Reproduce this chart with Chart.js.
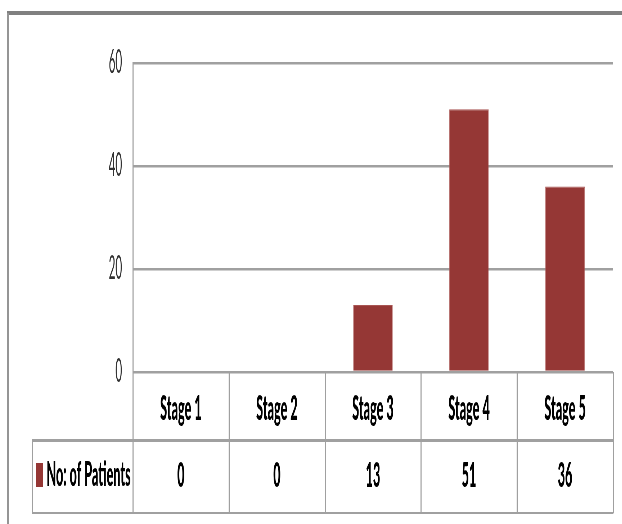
<!DOCTYPE html>
<html>
<head>
<meta charset="utf-8">
<script src="https://cdn.jsdelivr.net/npm/chart.js@4/dist/chart.umd.min.js"></script>
<style>
  html, body { margin: 0; padding: 0; background: #ffffff; overflow: hidden; }
  /* The chart is laid out on a wide canvas and then squeezed horizontally */
  #wrap { width: 1728px; height: 524px; transform: scaleX(0.36); transform-origin: 0 0; }
  canvas { display: block; }
</style>
</head>
<body>
<div id="wrap"><canvas id="chart" width="1728" height="524"></canvas></div>
<script>
// Chart data
const categories = ['Stage 1', 'Stage 2', 'Stage 3', 'Stage 4', 'Stage 5'];
const patients = [0, 0, 13, 51, 36];
const seriesName = 'No: of Patients';
const yTickValues = [0, 20, 40, 60];

const barColor = '#953735';
const lineColor = '#a0a0a0';
const FONT = 'Lato, "Open Sans", sans-serif';

// Draws the frame and the data table underneath the plot
const tablePlugin = {
  id: 'dataTable',
  beforeDraw(chart) {
    const ctx = chart.ctx;
    ctx.save();
    // outer frame: thick top rule and thin left rule
    ctx.fillStyle = '#808080';
    ctx.fillRect(19, 11, chart.width - 19, 4);
    ctx.fillStyle = '#959595';
    ctx.fillRect(20, 13, 5, chart.height - 13);
    ctx.restore();
  },
  afterDraw(chart) {
    const ctx = chart.ctx;
    const area = chart.chartArea;
    const n = categories.length;
    const colW = (area.right - area.left) / n;
    const row1Top = area.bottom;
    const row2Top = 440;
    const row2Bottom = 513;
    const tableLeft = 89;

    ctx.save();
    ctx.fillStyle = lineColor;
    // horizontal rules
    ctx.fillRect(tableLeft, row2Top - 1, area.right - tableLeft + 1, 3);
    ctx.fillRect(tableLeft, row2Bottom - 1, area.right - tableLeft + 1, 2);
    // vertical rules
    for (let i = 0; i <= n; i++) {
      const x = Math.round(area.left + i * colW);
      ctx.fillRect(x - 1, row1Top, 3, row2Bottom - row1Top);
    }
    ctx.fillRect(tableLeft - 1, row2Top, 3, row2Bottom - row2Top);

    // header row and value row
    ctx.fillStyle = '#000000';
    ctx.font = '900 35px ' + FONT;
    ctx.textAlign = 'center';
    ctx.textBaseline = 'alphabetic';
    for (let i = 0; i < n; i++) {
      const cx = chart.scales.x.getPixelForValue(i);
      ctx.fillText(categories[i], cx, 420);
      ctx.fillText(String(patients[i]), cx, 487);
    }

    // legend key and series name
    ctx.fillStyle = barColor;
    ctx.fillRect(100, 463, 20, 24);
    ctx.fillStyle = '#000000';
    ctx.textAlign = 'left';
    ctx.fillText(seriesName, 129, 486);
    ctx.restore();
  }
};

new Chart(document.getElementById('chart'), {
  type: 'bar',
  data: {
    labels: categories,
    datasets: [{
      label: seriesName,
      data: patients,
      backgroundColor: barColor,
      borderColor: '#a85553',
      borderWidth: 1,
      barPercentage: 0.41,
      categoryPercentage: 1.0
    }]
  },
  options: {
    responsive: false,
    devicePixelRatio: 1,
    animation: false,
    layout: { padding: { top: 63, right: 25, bottom: 152, left: 0 } },
    plugins: {
      legend: { display: false },
      tooltip: { enabled: false }
    },
    scales: {
      x: { display: false },
      y: {
        min: yTickValues[0],
        max: yTickValues[yTickValues.length - 1],
        afterBuildTicks(scale) {
          scale.ticks = yTickValues.map(v => ({ value: v }));
        },
        afterFit(scale) { scale.width = 369; },
        grid: { color: lineColor, lineWidth: 2.5, drawTicks: false },
        border: { display: true, color: lineColor, width: 3 },
        ticks: {
          padding: 30,
          color: '#333333',
          font: { family: FONT, size: 32 }
        }
      }
    }
  },
  plugins: [tablePlugin]
});
</script>
</body>
</html>
